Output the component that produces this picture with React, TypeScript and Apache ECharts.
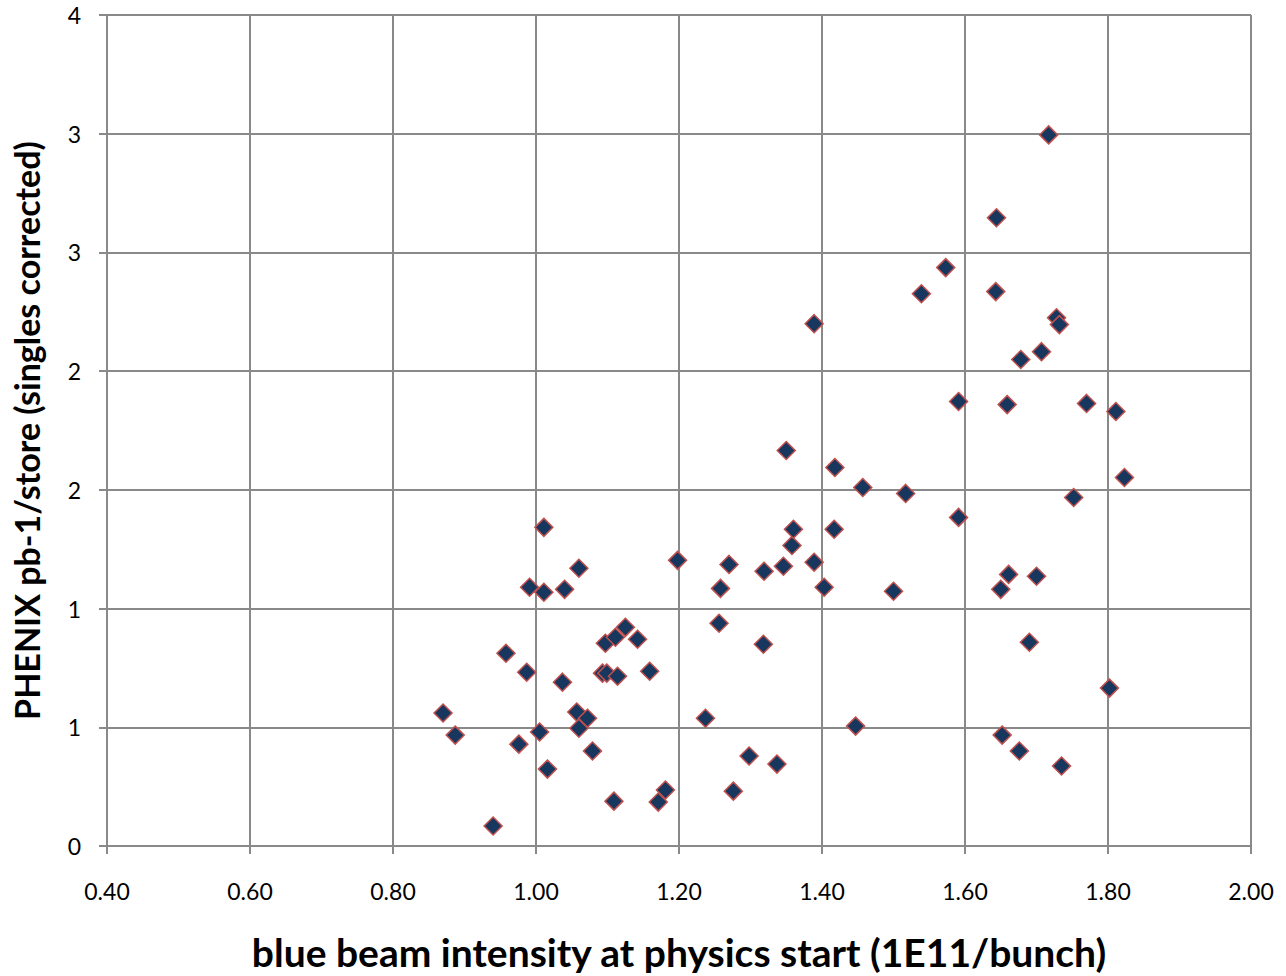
import React, { useEffect, useRef } from "react";
import * as echarts from "echarts";

const xValues = [
  0.870, 0.887, 0.940, 0.958, 0.976, 0.987, 0.991, 1.005, 1.011, 1.011,
  1.016, 1.037, 1.040, 1.057, 1.060, 1.060, 1.072, 1.079, 1.093, 1.097,
  1.099, 1.109, 1.111, 1.114, 1.125, 1.142, 1.159, 1.171, 1.181, 1.198,
  1.237, 1.256, 1.258, 1.270, 1.276, 1.298, 1.318, 1.319, 1.337, 1.346,
  1.350, 1.358, 1.360, 1.389, 1.389, 1.403, 1.417, 1.418, 1.447, 1.457,
  1.500, 1.517, 1.539, 1.573, 1.591, 1.591, 1.643, 1.644, 1.650, 1.652,
  1.659, 1.661, 1.676, 1.678, 1.690, 1.700, 1.707, 1.717, 1.728, 1.732,
  1.735, 1.752, 1.770, 1.802, 1.811, 1.823,
];
const yValues = [
  0.560, 0.467, 0.084, 0.812, 0.429, 0.732, 1.090, 0.480, 1.342, 1.069,
  0.324, 0.690, 1.081, 0.564, 1.170, 0.496, 0.538, 0.400, 0.728, 0.854,
  0.728, 0.189, 0.879, 0.715, 0.921, 0.871, 0.736, 0.185, 0.236, 1.203,
  0.538, 0.938, 1.085, 1.186, 0.231, 0.379, 0.850, 1.157, 0.345, 1.178,
  1.666, 1.266, 1.334, 2.200, 1.195, 1.090, 1.334, 1.594, 0.505, 1.510,
  1.073, 1.485, 2.326, 2.436, 1.872, 1.384, 2.335, 2.646, 1.081, 0.467,
  1.859, 1.144, 0.400, 2.049, 0.858, 1.136, 2.082, 2.995, 2.225, 2.196,
  0.337, 1.468, 1.864, 0.665, 1.830, 1.552,
];
const yTickLabels = ["0", "1", "1", "2", "2", "3", "3", "4"];
const xTitle = "blue beam intensity at physics start (1E11/bunch)";
const yTitle = "PHENIX pb-1/store (singles corrected)";

export default function App() {
  const ref = useRef<HTMLDivElement>(null);
  useEffect(() => {
    if (!ref.current) return;
    const chart = echarts.init(ref.current, null, { renderer: "svg" });
    const grey = "#898989";
    const font = "Lato, 'Open Sans', sans-serif";
    chart.setOption({
      animation: false,
      backgroundColor: "#ffffff",
      grid: { left: 107, right: 35, top: 15, bottom: 129, containLabel: false },
      xAxis: {
        type: "value",
        min: 0.4,
        max: 2.0,
        interval: 0.2,
        name: xTitle,
        nameLocation: "middle",
        nameGap: 86,
        nameTextStyle: { fontFamily: font, fontWeight: "bold", fontSize: 39, color: "#000" },
        axisLine: { show: true, lineStyle: { color: grey, width: 2 } },
        axisTick: { show: true, length: 8, lineStyle: { color: grey, width: 2 } },
        axisLabel: {
          fontFamily: font,
          fontSize: 23,
          color: "#000",
          margin: 33,
          formatter: (v: number) => v.toFixed(2),
        },
        splitLine: { show: true, lineStyle: { color: grey, width: 2 } },
      },
      yAxis: {
        type: "value",
        min: 0,
        max: 3.5,
        interval: 0.5,
        name: yTitle,
        nameLocation: "middle",
        nameGap: 64,
        nameRotate: 90,
        nameTextStyle: { fontFamily: font, fontWeight: "bold", fontSize: 34, color: "#000" },
        axisLine: { show: true, lineStyle: { color: grey, width: 2 } },
        axisTick: { show: true, length: 8, lineStyle: { color: grey, width: 2 } },
        axisLabel: {
          fontFamily: font,
          fontSize: 23,
          color: "#000",
          margin: 26,
          formatter: (v: number) => yTickLabels[Math.round(v / 0.5)] ?? "",
        },
        splitLine: { show: true, lineStyle: { color: grey, width: 2 } },
      },
      series: [
        {
          type: "scatter",
          symbol: "diamond",
          symbolSize: 18,
          data: xValues.map((x, i) => [x, yValues[i]]),
          itemStyle: {
            color: "#17375E",
            borderColor: "#C0504D",
            borderWidth: 1.5,
            opacity: 1,
          },
        },
      ],
    });
    return () => chart.dispose();
  }, []);
  return (
    <div
      ref={ref}
      style={{ position: "fixed", left: 0, top: 0, width: "1286px", height: "976px" }}
    />
  );
}
